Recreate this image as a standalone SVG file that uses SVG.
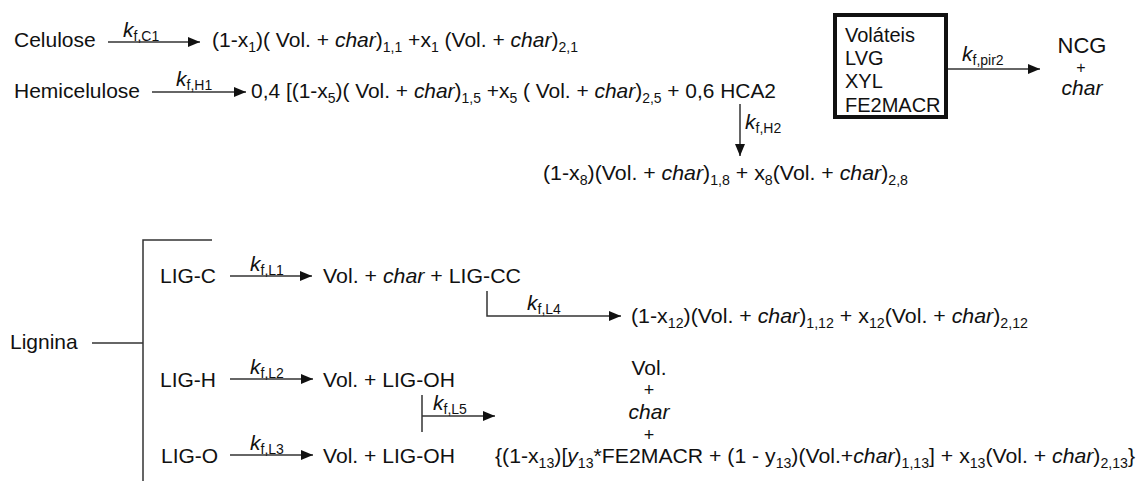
<svg xmlns="http://www.w3.org/2000/svg" width="1138" height="481" viewBox="0 0 1138 481">
  <defs>
    <style>
      text { font-family: "Liberation Sans", Arial, sans-serif; font-size: 21px; fill: #111; }
      .i { font-style: italic; }
      .sb { font-size: 14px; baseline-shift: -5px; }
      .k { font-style: italic; font-size: 21px; }
      .ks { font-style: normal; font-size: 14px; baseline-shift: -4px; }
      .bx { font-size: 20px; }
      .pl { font-size: 18px; }
      .ln { fill: none; stroke: #333; stroke-width: 1.5; }
      .box { fill: #fff; stroke: #111; stroke-width: 4; }
      .mid { text-anchor: middle; }
    </style>
    <marker id="ah" markerUnits="userSpaceOnUse" markerWidth="13" markerHeight="11" refX="12" refY="5" orient="auto">
      <path d="M0,0 L12,5 L0,10 Z" fill="#111"/>
    </marker>
  </defs>

  <!-- reaction arrows and branch lines -->
  <g id="connectors">
    <path class="ln" d="M108,42 H200" marker-end="url(#ah)"/>
    <path class="ln" d="M152,92 H246" marker-end="url(#ah)"/>
    <path class="ln" d="M740,104 V156" marker-end="url(#ah)"/>
    <path class="ln" d="M948,69 H1040" marker-end="url(#ah)"/>
    <path class="ln" d="M212,240 H143 V481"/>
    <path class="ln" d="M92,343 H143"/>
    <path class="ln" d="M230,276 H312" marker-end="url(#ah)"/>
    <path class="ln" d="M487,291 V316 H621" marker-end="url(#ah)"/>
    <path class="ln" d="M230,379 H313" marker-end="url(#ah)"/>
    <path class="ln" d="M422,395 V432"/>
    <path class="ln" d="M422,416 H495" marker-end="url(#ah)"/>
    <path class="ln" d="M230,455 H313" marker-end="url(#ah)"/>
  </g>

  <!-- rate constant labels -->
  <g id="rates">
    <text x="123" y="37"><tspan class="k">k</tspan><tspan class="ks">f,C1</tspan></text>
    <text x="176" y="86"><tspan class="k">k</tspan><tspan class="ks">f,H1</tspan></text>
    <text x="745" y="129"><tspan class="k">k</tspan><tspan class="ks">f,H2</tspan></text>
    <text x="962" y="61"><tspan class="k">k</tspan><tspan class="ks">f,pir2</tspan></text>
    <text x="250" y="271"><tspan class="k">k</tspan><tspan class="ks">f,L1</tspan></text>
    <text x="527" y="310"><tspan class="k">k</tspan><tspan class="ks">f,L4</tspan></text>
    <text x="250" y="374"><tspan class="k">k</tspan><tspan class="ks">f,L2</tspan></text>
    <text x="433" y="410"><tspan class="k">k</tspan><tspan class="ks">f,L5</tspan></text>
    <text x="250" y="450"><tspan class="k">k</tspan><tspan class="ks">f,L3</tspan></text>
  </g>

  <g id="celulose">
    <text x="14" y="47">Celulose</text>
  </g>
  <g id="celulose-products">
    <text x="212" y="47" textLength="366" lengthAdjust="spacingAndGlyphs">(1-x<tspan class="sb">1</tspan>)( Vol. + <tspan class="i">char</tspan>)<tspan class="sb">1,1</tspan> +x<tspan class="sb">1</tspan> (Vol. + <tspan class="i">char</tspan>)<tspan class="sb">2,1</tspan></text>
  </g>

  <g id="hemicelulose">
    <text x="14" y="98">Hemicelulose</text>
  </g>
  <g id="hemicelulose-products">
    <text x="251" y="98" textLength="525" lengthAdjust="spacingAndGlyphs">0,4 [(1-x<tspan class="sb">5</tspan>)( Vol. + <tspan class="i">char</tspan>)<tspan class="sb">1,5</tspan> +x<tspan class="sb">5</tspan> ( Vol. + <tspan class="i">char</tspan>)<tspan class="sb">2,5</tspan> + 0,6 HCA2</text>
  </g>
  <g id="hca2-products">
    <text x="543" y="180" textLength="365" lengthAdjust="spacingAndGlyphs">(1-x<tspan class="sb">8</tspan>)(Vol. + <tspan class="i">char</tspan>)<tspan class="sb">1,8</tspan> + x<tspan class="sb">8</tspan>(Vol. + <tspan class="i">char</tspan>)<tspan class="sb">2,8</tspan></text>
  </g>

  <g id="volateis">
    <rect class="box" x="835" y="15" width="111" height="102"/>
    <text class="bx" x="845" y="42">Voláteis</text>
    <text class="bx" x="845" y="65">LVG</text>
    <text class="bx" x="845" y="88">XYL</text>
    <text class="bx" x="845" y="112">FE2MACR</text>
  </g>
  <g id="ncg-char">
    <text class="mid" x="1082" y="53" style="font-size:22px">NCG</text>
    <text class="mid" x="1081" y="73" style="font-size:16px">+</text>
    <text class="mid i" x="1082" y="95">char</text>
  </g>

  <g id="lignina">
    <text x="10" y="349">Lignina</text>
  </g>

  <g id="lig-c">
    <text x="160" y="283">LIG-C</text>
  </g>
  <g id="lig-c-products">
    <text x="323" y="283" textLength="198" lengthAdjust="spacingAndGlyphs">Vol. + <tspan class="i">char</tspan> + LIG-CC</text>
  </g>
  <g id="lig-cc-products">
    <text x="631" y="323" textLength="397" lengthAdjust="spacingAndGlyphs">(1-x<tspan class="sb">12</tspan>)(Vol. + <tspan class="i">char</tspan>)<tspan class="sb">1,12</tspan> + x<tspan class="sb">12</tspan>(Vol. + <tspan class="i">char</tspan>)<tspan class="sb">2,12</tspan></text>
  </g>

  <g id="lig-h">
    <text x="160" y="387">LIG-H</text>
  </g>
  <g id="lig-h-products">
    <text x="323" y="387" textLength="132" lengthAdjust="spacingAndGlyphs">Vol. + LIG-OH</text>
  </g>

  <g id="lig-o">
    <text x="161" y="463">LIG-O</text>
  </g>
  <g id="lig-o-products">
    <text x="323" y="463" textLength="132" lengthAdjust="spacingAndGlyphs">Vol. + LIG-OH</text>
  </g>

  <g id="lig-oh-products">
    <text class="mid" x="649" y="375">Vol.</text>
    <text class="mid pl" x="649" y="396">+</text>
    <text class="mid i" x="649" y="419">char</text>
    <text class="mid pl" x="649" y="441">+</text>
    <text x="495" y="463" textLength="640" lengthAdjust="spacingAndGlyphs">{(1-x<tspan class="sb">13</tspan>)[<tspan class="i">y</tspan><tspan class="sb">13</tspan>*FE2MACR + (1 - y<tspan class="sb">13</tspan>)(Vol.+<tspan class="i">char</tspan>)<tspan class="sb">1,13</tspan>] + x<tspan class="sb">13</tspan>(Vol. + <tspan class="i">char</tspan>)<tspan class="sb">2,13</tspan>}</text>
  </g>
</svg>
